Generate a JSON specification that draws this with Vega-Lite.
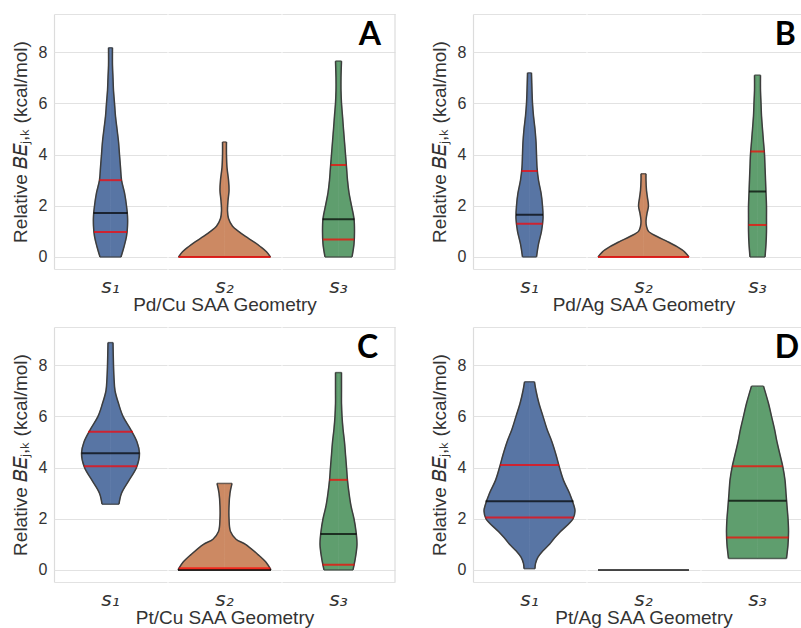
{
  "$schema": "https://vega.github.io/schema/vega-lite/v6.json",
  "background": "white",
  "padding": {"left": 11, "top": 13, "right": 0, "bottom": 0},
  "config": {
    "view": {"stroke": null},
    "font": "Liberation Sans",
    "axis": {"gridColor": "#e2e2e2", "gridWidth": 1.2, "domainColor": "#dcdcdc", "domainWidth": 1.2, "ticks": false, "labelFont": "Liberation Sans", "labelFontSize": 16, "labelColor": "#333333", "labelPadding": 7, "titleFont": "Liberation Sans", "titleFontSize": 19, "titleFontWeight": "normal", "titleColor": "#333333", "titlePadding": 8},
    "header": {"labelOrient": "bottom", "titleOrient": "bottom", "labelFont": "DejaVu Sans", "labelFontStyle": "italic", "labelFontSize": 20, "labelColor": "#333333", "labelPadding": 7, "titleFont": "Liberation Sans", "titleFontSize": 19, "titleFontWeight": "normal", "titleColor": "#333333", "titlePadding": -11}
  },
  "datasets": {
    "A": [
      {"g": "s₁", "k": "v", "y": 8.17, "w": 0.035}, {"g": "s₁", "k": "v", "y": 7.5, "w": 0.035}, {"g": "s₁", "k": "v", "y": 7.0, "w": 0.044}, {"g": "s₁", "k": "v", "y": 6.5, "w": 0.053}, {"g": "s₁", "k": "v", "y": 6.0, "w": 0.071}, {"g": "s₁", "k": "v", "y": 5.5, "w": 0.088}, {"g": "s₁", "k": "v", "y": 5.0, "w": 0.115}, {"g": "s₁", "k": "v", "y": 4.5, "w": 0.142}, {"g": "s₁", "k": "v", "y": 4.0, "w": 0.159}, {"g": "s₁", "k": "v", "y": 3.5, "w": 0.177}, {"g": "s₁", "k": "v", "y": 3.0, "w": 0.195}, {"g": "s₁", "k": "v", "y": 2.5, "w": 0.248}, {"g": "s₁", "k": "v", "y": 2.0, "w": 0.283}, {"g": "s₁", "k": "v", "y": 1.6, "w": 0.301}, {"g": "s₁", "k": "v", "y": 1.2, "w": 0.301}, {"g": "s₁", "k": "v", "y": 0.8, "w": 0.283}, {"g": "s₁", "k": "v", "y": 0.4, "w": 0.239}, {"g": "s₁", "k": "v", "y": 0.0, "w": 0.186},
      {"g": "s₂", "k": "v", "y": 4.49, "w": 0.035}, {"g": "s₂", "k": "v", "y": 4.0, "w": 0.035}, {"g": "s₂", "k": "v", "y": 3.5, "w": 0.044}, {"g": "s₂", "k": "v", "y": 3.0, "w": 0.071}, {"g": "s₂", "k": "v", "y": 2.6, "w": 0.08}, {"g": "s₂", "k": "v", "y": 2.2, "w": 0.062}, {"g": "s₂", "k": "v", "y": 1.8, "w": 0.053}, {"g": "s₂", "k": "v", "y": 1.5, "w": 0.071}, {"g": "s₂", "k": "v", "y": 1.2, "w": 0.142}, {"g": "s₂", "k": "v", "y": 1.0, "w": 0.248}, {"g": "s₂", "k": "v", "y": 0.8, "w": 0.372}, {"g": "s₂", "k": "v", "y": 0.6, "w": 0.513}, {"g": "s₂", "k": "v", "y": 0.4, "w": 0.637}, {"g": "s₂", "k": "v", "y": 0.2, "w": 0.743}, {"g": "s₂", "k": "v", "y": 0.0, "w": 0.814},
      {"g": "s₃", "k": "v", "y": 7.65, "w": 0.053}, {"g": "s₃", "k": "v", "y": 7.0, "w": 0.044}, {"g": "s₃", "k": "v", "y": 6.5, "w": 0.044}, {"g": "s₃", "k": "v", "y": 6.0, "w": 0.053}, {"g": "s₃", "k": "v", "y": 5.5, "w": 0.071}, {"g": "s₃", "k": "v", "y": 5.0, "w": 0.088}, {"g": "s₃", "k": "v", "y": 4.5, "w": 0.106}, {"g": "s₃", "k": "v", "y": 4.0, "w": 0.124}, {"g": "s₃", "k": "v", "y": 3.5, "w": 0.142}, {"g": "s₃", "k": "v", "y": 3.0, "w": 0.159}, {"g": "s₃", "k": "v", "y": 2.5, "w": 0.186}, {"g": "s₃", "k": "v", "y": 2.0, "w": 0.23}, {"g": "s₃", "k": "v", "y": 1.5, "w": 0.274}, {"g": "s₃", "k": "v", "y": 1.0, "w": 0.283}, {"g": "s₃", "k": "v", "y": 0.5, "w": 0.274}, {"g": "s₃", "k": "v", "y": 0.0, "w": 0.239},
      {"g": "s₁", "k": "m", "y": 1.72, "w": 0.301}, {"g": "s₃", "k": "m", "y": 1.47, "w": 0.283},
      {"g": "s₁", "k": "q", "y": 3.0, "w": 0.195}, {"g": "s₁", "k": "q", "y": 0.98, "w": 0.292}, {"g": "s₂", "k": "q", "y": 0.0, "w": 0.814}, {"g": "s₃", "k": "q", "y": 3.59, "w": 0.138}, {"g": "s₃", "k": "q", "y": 0.68, "w": 0.274}
    ],
    "B": [
      {"g": "s₁", "k": "v", "y": 7.19, "w": 0.035}, {"g": "s₁", "k": "v", "y": 6.5, "w": 0.044}, {"g": "s₁", "k": "v", "y": 6.0, "w": 0.053}, {"g": "s₁", "k": "v", "y": 5.5, "w": 0.071}, {"g": "s₁", "k": "v", "y": 5.0, "w": 0.097}, {"g": "s₁", "k": "v", "y": 4.5, "w": 0.115}, {"g": "s₁", "k": "v", "y": 4.0, "w": 0.124}, {"g": "s₁", "k": "v", "y": 3.5, "w": 0.133}, {"g": "s₁", "k": "v", "y": 3.0, "w": 0.159}, {"g": "s₁", "k": "v", "y": 2.5, "w": 0.204}, {"g": "s₁", "k": "v", "y": 2.0, "w": 0.23}, {"g": "s₁", "k": "v", "y": 1.5, "w": 0.239}, {"g": "s₁", "k": "v", "y": 1.0, "w": 0.212}, {"g": "s₁", "k": "v", "y": 0.5, "w": 0.159}, {"g": "s₁", "k": "v", "y": 0.0, "w": 0.124},
      {"g": "s₂", "k": "v", "y": 3.25, "w": 0.044}, {"g": "s₂", "k": "v", "y": 3.0, "w": 0.044}, {"g": "s₂", "k": "v", "y": 2.6, "w": 0.053}, {"g": "s₂", "k": "v", "y": 2.3, "w": 0.071}, {"g": "s₂", "k": "v", "y": 2.0, "w": 0.088}, {"g": "s₂", "k": "v", "y": 1.7, "w": 0.062}, {"g": "s₂", "k": "v", "y": 1.4, "w": 0.044}, {"g": "s₂", "k": "v", "y": 1.2, "w": 0.053}, {"g": "s₂", "k": "v", "y": 1.0, "w": 0.088}, {"g": "s₂", "k": "v", "y": 0.8, "w": 0.239}, {"g": "s₂", "k": "v", "y": 0.6, "w": 0.425}, {"g": "s₂", "k": "v", "y": 0.4, "w": 0.593}, {"g": "s₂", "k": "v", "y": 0.2, "w": 0.726}, {"g": "s₂", "k": "v", "y": 0.0, "w": 0.805},
      {"g": "s₃", "k": "v", "y": 7.1, "w": 0.053}, {"g": "s₃", "k": "v", "y": 6.5, "w": 0.053}, {"g": "s₃", "k": "v", "y": 6.0, "w": 0.062}, {"g": "s₃", "k": "v", "y": 5.5, "w": 0.071}, {"g": "s₃", "k": "v", "y": 5.0, "w": 0.088}, {"g": "s₃", "k": "v", "y": 4.5, "w": 0.106}, {"g": "s₃", "k": "v", "y": 4.0, "w": 0.124}, {"g": "s₃", "k": "v", "y": 3.5, "w": 0.133}, {"g": "s₃", "k": "v", "y": 3.0, "w": 0.142}, {"g": "s₃", "k": "v", "y": 2.5, "w": 0.15}, {"g": "s₃", "k": "v", "y": 2.0, "w": 0.159}, {"g": "s₃", "k": "v", "y": 1.5, "w": 0.159}, {"g": "s₃", "k": "v", "y": 1.0, "w": 0.159}, {"g": "s₃", "k": "v", "y": 0.5, "w": 0.15}, {"g": "s₃", "k": "v", "y": 0.0, "w": 0.133},
      {"g": "s₁", "k": "m", "y": 1.65, "w": 0.239}, {"g": "s₃", "k": "m", "y": 2.56, "w": 0.15},
      {"g": "s₁", "k": "q", "y": 3.36, "w": 0.142}, {"g": "s₁", "k": "q", "y": 1.3, "w": 0.23}, {"g": "s₂", "k": "q", "y": 0.0, "w": 0.805}, {"g": "s₃", "k": "q", "y": 4.12, "w": 0.124}, {"g": "s₃", "k": "q", "y": 1.25, "w": 0.159}
    ],
    "C": [
      {"g": "s₁", "k": "v", "y": 8.88, "w": 0.044}, {"g": "s₁", "k": "v", "y": 8.0, "w": 0.053}, {"g": "s₁", "k": "v", "y": 7.5, "w": 0.062}, {"g": "s₁", "k": "v", "y": 7.0, "w": 0.08}, {"g": "s₁", "k": "v", "y": 6.5, "w": 0.142}, {"g": "s₁", "k": "v", "y": 6.0, "w": 0.221}, {"g": "s₁", "k": "v", "y": 5.5, "w": 0.354}, {"g": "s₁", "k": "v", "y": 5.0, "w": 0.469}, {"g": "s₁", "k": "v", "y": 4.56, "w": 0.513}, {"g": "s₁", "k": "v", "y": 4.0, "w": 0.46}, {"g": "s₁", "k": "v", "y": 3.5, "w": 0.327}, {"g": "s₁", "k": "v", "y": 3.0, "w": 0.195}, {"g": "s₁", "k": "v", "y": 2.57, "w": 0.15},
      {"g": "s₂", "k": "v", "y": 3.38, "w": 0.133}, {"g": "s₂", "k": "v", "y": 3.0, "w": 0.097}, {"g": "s₂", "k": "v", "y": 2.5, "w": 0.08}, {"g": "s₂", "k": "v", "y": 2.0, "w": 0.08}, {"g": "s₂", "k": "v", "y": 1.5, "w": 0.106}, {"g": "s₂", "k": "v", "y": 1.2, "w": 0.204}, {"g": "s₂", "k": "v", "y": 1.0, "w": 0.372}, {"g": "s₂", "k": "v", "y": 0.6, "w": 0.593}, {"g": "s₂", "k": "v", "y": 0.3, "w": 0.735}, {"g": "s₂", "k": "v", "y": 0.0, "w": 0.823},
      {"g": "s₃", "k": "v", "y": 7.71, "w": 0.053}, {"g": "s₃", "k": "v", "y": 7.0, "w": 0.053}, {"g": "s₃", "k": "v", "y": 6.5, "w": 0.053}, {"g": "s₃", "k": "v", "y": 6.0, "w": 0.062}, {"g": "s₃", "k": "v", "y": 5.5, "w": 0.08}, {"g": "s₃", "k": "v", "y": 5.0, "w": 0.106}, {"g": "s₃", "k": "v", "y": 4.5, "w": 0.124}, {"g": "s₃", "k": "v", "y": 4.0, "w": 0.142}, {"g": "s₃", "k": "v", "y": 3.5, "w": 0.159}, {"g": "s₃", "k": "v", "y": 3.0, "w": 0.186}, {"g": "s₃", "k": "v", "y": 2.5, "w": 0.221}, {"g": "s₃", "k": "v", "y": 2.0, "w": 0.274}, {"g": "s₃", "k": "v", "y": 1.5, "w": 0.31}, {"g": "s₃", "k": "v", "y": 1.0, "w": 0.327}, {"g": "s₃", "k": "v", "y": 0.5, "w": 0.301}, {"g": "s₃", "k": "v", "y": 0.0, "w": 0.257},
      {"g": "s₁", "k": "m", "y": 4.56, "w": 0.513}, {"g": "s₂", "k": "m", "y": 0.0, "w": 0.823}, {"g": "s₃", "k": "m", "y": 1.4, "w": 0.319},
      {"g": "s₁", "k": "q", "y": 5.4, "w": 0.398}, {"g": "s₁", "k": "q", "y": 4.05, "w": 0.469}, {"g": "s₂", "k": "q", "y": 0.07, "w": 0.81}, {"g": "s₃", "k": "q", "y": 3.52, "w": 0.159}, {"g": "s₃", "k": "q", "y": 0.2, "w": 0.283}
    ],
    "D": [
      {"g": "s₁", "k": "v", "y": 7.35, "w": 0.088}, {"g": "s₁", "k": "v", "y": 7.0, "w": 0.115}, {"g": "s₁", "k": "v", "y": 6.5, "w": 0.168}, {"g": "s₁", "k": "v", "y": 6.0, "w": 0.239}, {"g": "s₁", "k": "v", "y": 5.5, "w": 0.31}, {"g": "s₁", "k": "v", "y": 5.0, "w": 0.398}, {"g": "s₁", "k": "v", "y": 4.5, "w": 0.469}, {"g": "s₁", "k": "v", "y": 4.0, "w": 0.531}, {"g": "s₁", "k": "v", "y": 3.5, "w": 0.602}, {"g": "s₁", "k": "v", "y": 3.0, "w": 0.708}, {"g": "s₁", "k": "v", "y": 2.5, "w": 0.788}, {"g": "s₁", "k": "v", "y": 2.3, "w": 0.805}, {"g": "s₁", "k": "v", "y": 2.0, "w": 0.77}, {"g": "s₁", "k": "v", "y": 1.5, "w": 0.549}, {"g": "s₁", "k": "v", "y": 1.2, "w": 0.425}, {"g": "s₁", "k": "v", "y": 1.0, "w": 0.354}, {"g": "s₁", "k": "v", "y": 0.75, "w": 0.239}, {"g": "s₁", "k": "v", "y": 0.5, "w": 0.15}, {"g": "s₁", "k": "v", "y": 0.25, "w": 0.106}, {"g": "s₁", "k": "v", "y": 0.05, "w": 0.097},
      {"g": "s₃", "k": "v", "y": 7.18, "w": 0.106}, {"g": "s₃", "k": "v", "y": 6.5, "w": 0.195}, {"g": "s₃", "k": "v", "y": 6.0, "w": 0.248}, {"g": "s₃", "k": "v", "y": 5.5, "w": 0.301}, {"g": "s₃", "k": "v", "y": 5.0, "w": 0.345}, {"g": "s₃", "k": "v", "y": 4.5, "w": 0.398}, {"g": "s₃", "k": "v", "y": 4.0, "w": 0.451}, {"g": "s₃", "k": "v", "y": 3.5, "w": 0.487}, {"g": "s₃", "k": "v", "y": 3.0, "w": 0.504}, {"g": "s₃", "k": "v", "y": 2.5, "w": 0.522}, {"g": "s₃", "k": "v", "y": 2.0, "w": 0.54}, {"g": "s₃", "k": "v", "y": 1.5, "w": 0.549}, {"g": "s₃", "k": "v", "y": 1.0, "w": 0.54}, {"g": "s₃", "k": "v", "y": 0.45, "w": 0.513},
      {"g": "s₁", "k": "m", "y": 2.68, "w": 0.779}, {"g": "s₂", "k": "m", "y": 0.0, "w": 0.805}, {"g": "s₃", "k": "m", "y": 2.7, "w": 0.513},
      {"g": "s₁", "k": "q", "y": 4.1, "w": 0.522}, {"g": "s₁", "k": "q", "y": 2.05, "w": 0.779}, {"g": "s₃", "k": "q", "y": 4.05, "w": 0.442}, {"g": "s₃", "k": "q", "y": 1.27, "w": 0.549}
    ]
  },
  "spacing": 11,
  "vconcat": [
    {
      "spacing": 34,
      "hconcat": [
        {
          "data": {"name": "A"},
          "facet": {"column": {"field": "g", "type": "nominal", "header": {"title": "Pd/Cu SAA Geometry"}}},
          "spacing": 0,
          "spec": {
            "width": 113, "height": 255,
            "resolve": {"scale": {"x": "independent"}},
            "layer": [
              {"transform": [{"filter": "datum.k === 'v'"}], "mark": {"type": "area", "orient": "horizontal", "interpolate": "catmull-rom", "strokeWidth": 0.6},
               "encoding": {"y": {"field": "y", "type": "quantitative", "scale": {"domain": [-0.47, 9.49], "nice": false, "zero": false}, "axis": {"values": [-0.47, 0, 2, 4, 6, 8, 9.49], "labelExpr": "datum.value < -0.1 || datum.value > 9 ? '' : datum.label", "title": "Relative 𝐵𝐸ⱼ,ₖ (kcal/mol)", "domain": true}},
                 "x": {"field": "w", "type": "quantitative", "scale": {"domain": [-1, 1]}, "axis": null}, "x2": {"datum": 0},
                 "fill": {"field": "g", "type": "nominal", "scale": {"domain": ["s₁", "s₂", "s₃"], "range": ["#5875a4", "#cc8963", "#5f9e6e"]}, "legend": null},
                 "stroke": {"field": "g", "type": "nominal", "scale": {"domain": ["s₁", "s₂", "s₃"], "range": ["#5875a4", "#cc8963", "#5f9e6e"]}, "legend": null}}},
              {"transform": [{"filter": "datum.k === 'v'"}], "mark": {"type": "area", "orient": "horizontal", "interpolate": "catmull-rom", "strokeWidth": 0.6},
               "encoding": {"y": {"field": "y", "type": "quantitative"},
                 "x": {"field": "w", "type": "quantitative", "scale": {"domain": [-1, 1], "reverse": true}, "axis": null}, "x2": {"datum": 0},
                 "fill": {"field": "g", "type": "nominal", "legend": null}, "stroke": {"field": "g", "type": "nominal", "legend": null}}},
              {"transform": [{"filter": "datum.k === 'v'"}], "mark": {"type": "line", "interpolate": "catmull-rom", "stroke": "#3d3d3d", "strokeWidth": 1.5},
               "encoding": {"y": {"field": "y", "type": "quantitative"}, "x": {"field": "w", "type": "quantitative", "scale": {"domain": [-1, 1]}, "axis": null}, "order": {"field": "y", "type": "quantitative"}}},
              {"transform": [{"filter": "datum.k === 'v'"}], "mark": {"type": "line", "interpolate": "catmull-rom", "stroke": "#3d3d3d", "strokeWidth": 1.5},
               "encoding": {"y": {"field": "y", "type": "quantitative"}, "x": {"field": "w", "type": "quantitative", "scale": {"domain": [-1, 1], "reverse": true}, "axis": null}, "order": {"field": "y", "type": "quantitative"}}},
              {"transform": [{"filter": "datum.k === 'v'"}, {"joinaggregate": [{"op": "min", "field": "y", "as": "y0"}, {"op": "max", "field": "y", "as": "y1"}], "groupby": ["g"]}, {"filter": "datum.y === datum.y0 || datum.y === datum.y1"}],
               "mark": {"type": "tick", "orient": "horizontal", "thickness": 1.5, "color": "#3d3d3d"},
               "encoding": {"y": {"field": "y", "type": "quantitative"}, "x": {"datum": 0, "scale": {"domain": [-1, 1]}, "axis": null}, "size": {"field": "w", "type": "quantitative", "scale": {"type": "linear", "domain": [0, 1], "range": [0, 113]}, "legend": null}}},
              {"transform": [{"filter": "datum.k !== 'v'"}],
               "mark": {"type": "tick", "orient": "horizontal", "thickness": 2},
               "encoding": {"y": {"field": "y", "type": "quantitative"}, "x": {"datum": 0, "scale": {"domain": [-1, 1]}, "axis": null}, "size": {"field": "w", "type": "quantitative", "legend": null},
                 "color": {"field": "k", "type": "nominal", "scale": {"domain": ["m", "q"], "range": ["#000000", "#ff0000"]}, "legend": null}}},
              {"transform": [{"filter": "datum.g === 's₃'"}, {"aggregate": [{"op": "count", "as": "n"}], "groupby": ["g"]}],
               "mark": {"type": "rule", "color": "#dcdcdc", "strokeWidth": 1.2},
               "encoding": {"x": {"datum": 1, "scale": {"domain": [-1, 1]}, "axis": null}, "y": {"datum": -0.47, "type": "quantitative"}, "y2": {"datum": 9.49}}},
              {"transform": [{"filter": "datum.g === 's₃'"}, {"aggregate": [{"op": "count", "as": "n"}], "groupby": ["g"]}],
               "mark": {"type": "text", "text": "A", "font": "Lato", "fontSize": 32, "fontWeight": "bold", "align": "right", "baseline": "alphabetic", "color": "#000000"},
               "encoding": {"x": {"datum": 0.752, "scale": {"domain": [-1, 1]}, "axis": null}, "y": {"datum": 8.28, "type": "quantitative"}}}
            ]
          }
        },
        {
          "data": {"name": "B"},
          "facet": {"column": {"field": "g", "type": "nominal", "header": {"title": "Pd/Ag SAA Geometry"}}},
          "spacing": 0,
          "spec": {
            "width": 113, "height": 255,
            "resolve": {"scale": {"x": "independent"}},
            "layer": [
              {"transform": [{"filter": "datum.k === 'v'"}], "mark": {"type": "area", "orient": "horizontal", "interpolate": "catmull-rom", "strokeWidth": 0.6},
               "encoding": {"y": {"field": "y", "type": "quantitative", "scale": {"domain": [-0.47, 9.49], "nice": false, "zero": false}, "axis": {"values": [-0.47, 0, 2, 4, 6, 8, 9.49], "labelExpr": "datum.value < -0.1 || datum.value > 9 ? '' : datum.label", "title": "Relative 𝐵𝐸ⱼ,ₖ (kcal/mol)", "domain": true}},
                 "x": {"field": "w", "type": "quantitative", "scale": {"domain": [-1, 1]}, "axis": null}, "x2": {"datum": 0},
                 "fill": {"field": "g", "type": "nominal", "scale": {"domain": ["s₁", "s₂", "s₃"], "range": ["#5875a4", "#cc8963", "#5f9e6e"]}, "legend": null},
                 "stroke": {"field": "g", "type": "nominal", "scale": {"domain": ["s₁", "s₂", "s₃"], "range": ["#5875a4", "#cc8963", "#5f9e6e"]}, "legend": null}}},
              {"transform": [{"filter": "datum.k === 'v'"}], "mark": {"type": "area", "orient": "horizontal", "interpolate": "catmull-rom", "strokeWidth": 0.6},
               "encoding": {"y": {"field": "y", "type": "quantitative"},
                 "x": {"field": "w", "type": "quantitative", "scale": {"domain": [-1, 1], "reverse": true}, "axis": null}, "x2": {"datum": 0},
                 "fill": {"field": "g", "type": "nominal", "legend": null}, "stroke": {"field": "g", "type": "nominal", "legend": null}}},
              {"transform": [{"filter": "datum.k === 'v'"}], "mark": {"type": "line", "interpolate": "catmull-rom", "stroke": "#3d3d3d", "strokeWidth": 1.5},
               "encoding": {"y": {"field": "y", "type": "quantitative"}, "x": {"field": "w", "type": "quantitative", "scale": {"domain": [-1, 1]}, "axis": null}, "order": {"field": "y", "type": "quantitative"}}},
              {"transform": [{"filter": "datum.k === 'v'"}], "mark": {"type": "line", "interpolate": "catmull-rom", "stroke": "#3d3d3d", "strokeWidth": 1.5},
               "encoding": {"y": {"field": "y", "type": "quantitative"}, "x": {"field": "w", "type": "quantitative", "scale": {"domain": [-1, 1], "reverse": true}, "axis": null}, "order": {"field": "y", "type": "quantitative"}}},
              {"transform": [{"filter": "datum.k === 'v'"}, {"joinaggregate": [{"op": "min", "field": "y", "as": "y0"}, {"op": "max", "field": "y", "as": "y1"}], "groupby": ["g"]}, {"filter": "datum.y === datum.y0 || datum.y === datum.y1"}],
               "mark": {"type": "tick", "orient": "horizontal", "thickness": 1.5, "color": "#3d3d3d"},
               "encoding": {"y": {"field": "y", "type": "quantitative"}, "x": {"datum": 0, "scale": {"domain": [-1, 1]}, "axis": null}, "size": {"field": "w", "type": "quantitative", "scale": {"type": "linear", "domain": [0, 1], "range": [0, 113]}, "legend": null}}},
              {"transform": [{"filter": "datum.k !== 'v'"}],
               "mark": {"type": "tick", "orient": "horizontal", "thickness": 2},
               "encoding": {"y": {"field": "y", "type": "quantitative"}, "x": {"datum": 0, "scale": {"domain": [-1, 1]}, "axis": null}, "size": {"field": "w", "type": "quantitative", "legend": null},
                 "color": {"field": "k", "type": "nominal", "scale": {"domain": ["m", "q"], "range": ["#000000", "#ff0000"]}, "legend": null}}},
              {"transform": [{"filter": "datum.g === 's₃'"}, {"aggregate": [{"op": "count", "as": "n"}], "groupby": ["g"]}],
               "mark": {"type": "rule", "color": "#dcdcdc", "strokeWidth": 1.2},
               "encoding": {"x": {"datum": 1, "scale": {"domain": [-1, 1]}, "axis": null}, "y": {"datum": -0.47, "type": "quantitative"}, "y2": {"datum": 9.49}}},
              {"transform": [{"filter": "datum.g === 's₃'"}, {"aggregate": [{"op": "count", "as": "n"}], "groupby": ["g"]}],
               "mark": {"type": "text", "text": "B", "font": "Lato", "fontSize": 32, "fontWeight": "bold", "align": "right", "baseline": "alphabetic", "color": "#000000"},
               "encoding": {"x": {"datum": 0.68, "scale": {"domain": [-1, 1]}, "axis": null}, "y": {"datum": 8.28, "type": "quantitative"}}}
            ]
          }
        }
      ]
    },
    {
      "spacing": 34,
      "hconcat": [
        {
          "data": {"name": "C"},
          "facet": {"column": {"field": "g", "type": "nominal", "header": {"title": "Pt/Cu SAA Geometry"}}},
          "spacing": 0,
          "spec": {
            "width": 113, "height": 255,
            "resolve": {"scale": {"x": "independent"}},
            "layer": [
              {"transform": [{"filter": "datum.k === 'v'"}], "mark": {"type": "area", "orient": "horizontal", "interpolate": "catmull-rom", "strokeWidth": 0.6},
               "encoding": {"y": {"field": "y", "type": "quantitative", "scale": {"domain": [-0.47, 9.49], "nice": false, "zero": false}, "axis": {"values": [-0.47, 0, 2, 4, 6, 8, 9.49], "labelExpr": "datum.value < -0.1 || datum.value > 9 ? '' : datum.label", "title": "Relative 𝐵𝐸ⱼ,ₖ (kcal/mol)", "domain": true}},
                 "x": {"field": "w", "type": "quantitative", "scale": {"domain": [-1, 1]}, "axis": null}, "x2": {"datum": 0},
                 "fill": {"field": "g", "type": "nominal", "scale": {"domain": ["s₁", "s₂", "s₃"], "range": ["#5875a4", "#cc8963", "#5f9e6e"]}, "legend": null},
                 "stroke": {"field": "g", "type": "nominal", "scale": {"domain": ["s₁", "s₂", "s₃"], "range": ["#5875a4", "#cc8963", "#5f9e6e"]}, "legend": null}}},
              {"transform": [{"filter": "datum.k === 'v'"}], "mark": {"type": "area", "orient": "horizontal", "interpolate": "catmull-rom", "strokeWidth": 0.6},
               "encoding": {"y": {"field": "y", "type": "quantitative"},
                 "x": {"field": "w", "type": "quantitative", "scale": {"domain": [-1, 1], "reverse": true}, "axis": null}, "x2": {"datum": 0},
                 "fill": {"field": "g", "type": "nominal", "legend": null}, "stroke": {"field": "g", "type": "nominal", "legend": null}}},
              {"transform": [{"filter": "datum.k === 'v'"}], "mark": {"type": "line", "interpolate": "catmull-rom", "stroke": "#3d3d3d", "strokeWidth": 1.5},
               "encoding": {"y": {"field": "y", "type": "quantitative"}, "x": {"field": "w", "type": "quantitative", "scale": {"domain": [-1, 1]}, "axis": null}, "order": {"field": "y", "type": "quantitative"}}},
              {"transform": [{"filter": "datum.k === 'v'"}], "mark": {"type": "line", "interpolate": "catmull-rom", "stroke": "#3d3d3d", "strokeWidth": 1.5},
               "encoding": {"y": {"field": "y", "type": "quantitative"}, "x": {"field": "w", "type": "quantitative", "scale": {"domain": [-1, 1], "reverse": true}, "axis": null}, "order": {"field": "y", "type": "quantitative"}}},
              {"transform": [{"filter": "datum.k === 'v'"}, {"joinaggregate": [{"op": "min", "field": "y", "as": "y0"}, {"op": "max", "field": "y", "as": "y1"}], "groupby": ["g"]}, {"filter": "datum.y === datum.y0 || datum.y === datum.y1"}],
               "mark": {"type": "tick", "orient": "horizontal", "thickness": 1.5, "color": "#3d3d3d"},
               "encoding": {"y": {"field": "y", "type": "quantitative"}, "x": {"datum": 0, "scale": {"domain": [-1, 1]}, "axis": null}, "size": {"field": "w", "type": "quantitative", "scale": {"type": "linear", "domain": [0, 1], "range": [0, 113]}, "legend": null}}},
              {"transform": [{"filter": "datum.k !== 'v'"}],
               "mark": {"type": "tick", "orient": "horizontal", "thickness": 2},
               "encoding": {"y": {"field": "y", "type": "quantitative"}, "x": {"datum": 0, "scale": {"domain": [-1, 1]}, "axis": null}, "size": {"field": "w", "type": "quantitative", "legend": null},
                 "color": {"field": "k", "type": "nominal", "scale": {"domain": ["m", "q"], "range": ["#000000", "#ff0000"]}, "legend": null}}},
              {"transform": [{"filter": "datum.g === 's₃'"}, {"aggregate": [{"op": "count", "as": "n"}], "groupby": ["g"]}],
               "mark": {"type": "rule", "color": "#dcdcdc", "strokeWidth": 1.2},
               "encoding": {"x": {"datum": 1, "scale": {"domain": [-1, 1]}, "axis": null}, "y": {"datum": -0.47, "type": "quantitative"}, "y2": {"datum": 9.49}}},
              {"transform": [{"filter": "datum.g === 's₃'"}, {"aggregate": [{"op": "count", "as": "n"}], "groupby": ["g"]}],
               "mark": {"type": "text", "text": "C", "font": "Lato", "fontSize": 32, "fontWeight": "bold", "align": "right", "baseline": "alphabetic", "color": "#000000"},
               "encoding": {"x": {"datum": 0.70, "scale": {"domain": [-1, 1]}, "axis": null}, "y": {"datum": 8.29, "type": "quantitative"}}}
            ]
          }
        },
        {
          "data": {"name": "D"},
          "facet": {"column": {"field": "g", "type": "nominal", "header": {"title": "Pt/Ag SAA Geometry"}}},
          "spacing": 0,
          "spec": {
            "width": 113, "height": 255,
            "resolve": {"scale": {"x": "independent"}},
            "layer": [
              {"transform": [{"filter": "datum.k === 'v'"}], "mark": {"type": "area", "orient": "horizontal", "interpolate": "catmull-rom", "strokeWidth": 0.6},
               "encoding": {"y": {"field": "y", "type": "quantitative", "scale": {"domain": [-0.47, 9.49], "nice": false, "zero": false}, "axis": {"values": [-0.47, 0, 2, 4, 6, 8, 9.49], "labelExpr": "datum.value < -0.1 || datum.value > 9 ? '' : datum.label", "title": "Relative 𝐵𝐸ⱼ,ₖ (kcal/mol)", "domain": true}},
                 "x": {"field": "w", "type": "quantitative", "scale": {"domain": [-1, 1]}, "axis": null}, "x2": {"datum": 0},
                 "fill": {"field": "g", "type": "nominal", "scale": {"domain": ["s₁", "s₂", "s₃"], "range": ["#5875a4", "#cc8963", "#5f9e6e"]}, "legend": null},
                 "stroke": {"field": "g", "type": "nominal", "scale": {"domain": ["s₁", "s₂", "s₃"], "range": ["#5875a4", "#cc8963", "#5f9e6e"]}, "legend": null}}},
              {"transform": [{"filter": "datum.k === 'v'"}], "mark": {"type": "area", "orient": "horizontal", "interpolate": "catmull-rom", "strokeWidth": 0.6},
               "encoding": {"y": {"field": "y", "type": "quantitative"},
                 "x": {"field": "w", "type": "quantitative", "scale": {"domain": [-1, 1], "reverse": true}, "axis": null}, "x2": {"datum": 0},
                 "fill": {"field": "g", "type": "nominal", "legend": null}, "stroke": {"field": "g", "type": "nominal", "legend": null}}},
              {"transform": [{"filter": "datum.k === 'v'"}], "mark": {"type": "line", "interpolate": "catmull-rom", "stroke": "#3d3d3d", "strokeWidth": 1.5},
               "encoding": {"y": {"field": "y", "type": "quantitative"}, "x": {"field": "w", "type": "quantitative", "scale": {"domain": [-1, 1]}, "axis": null}, "order": {"field": "y", "type": "quantitative"}}},
              {"transform": [{"filter": "datum.k === 'v'"}], "mark": {"type": "line", "interpolate": "catmull-rom", "stroke": "#3d3d3d", "strokeWidth": 1.5},
               "encoding": {"y": {"field": "y", "type": "quantitative"}, "x": {"field": "w", "type": "quantitative", "scale": {"domain": [-1, 1], "reverse": true}, "axis": null}, "order": {"field": "y", "type": "quantitative"}}},
              {"transform": [{"filter": "datum.k === 'v'"}, {"joinaggregate": [{"op": "min", "field": "y", "as": "y0"}, {"op": "max", "field": "y", "as": "y1"}], "groupby": ["g"]}, {"filter": "datum.y === datum.y0 || datum.y === datum.y1"}],
               "mark": {"type": "tick", "orient": "horizontal", "thickness": 1.5, "color": "#3d3d3d"},
               "encoding": {"y": {"field": "y", "type": "quantitative"}, "x": {"datum": 0, "scale": {"domain": [-1, 1]}, "axis": null}, "size": {"field": "w", "type": "quantitative", "scale": {"type": "linear", "domain": [0, 1], "range": [0, 113]}, "legend": null}}},
              {"transform": [{"filter": "datum.k !== 'v'"}],
               "mark": {"type": "tick", "orient": "horizontal", "thickness": 2},
               "encoding": {"y": {"field": "y", "type": "quantitative"}, "x": {"datum": 0, "scale": {"domain": [-1, 1]}, "axis": null}, "size": {"field": "w", "type": "quantitative", "legend": null},
                 "color": {"field": "k", "type": "nominal", "scale": {"domain": ["m", "q"], "range": ["#000000", "#ff0000"]}, "legend": null}}},
              {"transform": [{"filter": "datum.g === 's₃'"}, {"aggregate": [{"op": "count", "as": "n"}], "groupby": ["g"]}],
               "mark": {"type": "rule", "color": "#dcdcdc", "strokeWidth": 1.2},
               "encoding": {"x": {"datum": 1, "scale": {"domain": [-1, 1]}, "axis": null}, "y": {"datum": -0.47, "type": "quantitative"}, "y2": {"datum": 9.49}}},
              {"transform": [{"filter": "datum.g === 's₃'"}, {"aggregate": [{"op": "count", "as": "n"}], "groupby": ["g"]}],
               "mark": {"type": "text", "text": "D", "font": "Lato", "fontSize": 32, "fontWeight": "bold", "align": "right", "baseline": "alphabetic", "color": "#000000"},
               "encoding": {"x": {"datum": 0.735, "scale": {"domain": [-1, 1]}, "axis": null}, "y": {"datum": 8.29, "type": "quantitative"}}}
            ]
          }
        }
      ]
    }
  ]
}
